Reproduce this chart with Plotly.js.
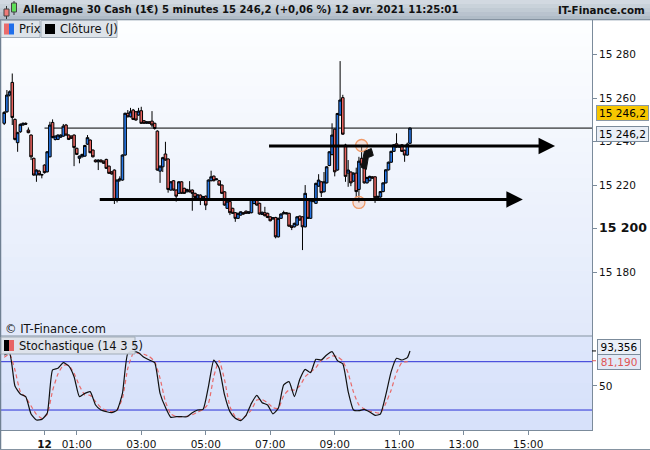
<!DOCTYPE html>
<html><head><meta charset="utf-8">
<script src="https://cdn.plot.ly/plotly-3.0.1.min.js"></script>
<style>html,body{margin:0;padding:0;background:#fff;}#chart{width:650px;height:450px;}</style>
</head><body><div id="chart"></div>
<script>
// ---- DATA (5-minute bars, first bar = 22:45 on 11 avr. 2021) ----
const firstBarOffset = -15; // bars relative to midnight of 12 avr.
const openP = [
15248.4,15253.7,15261.4,15267.2,15250.2,15239.5,15244.5,15247.6,15248.4,15245.3,
15243.0,15232.3,15224.6,15226.4,15224.6,
15229.2,15226.1,15233.0,15248.8,15241.0,15241.0,15242.0,15242.5,15247.6,15243.0,
15242.5,15243.0,15236.9,15232.3,15233.0,15233.3,15238.8,15240.7,15236.1,15231.5,
15230.7,15231.5,15231.0,15231.8,15228.7,15226.1,15226.9,15213.4,15222.3,15222.3,
15233.8,15253.0,15251.4,15254.5,15253.7,15252.2,15254.2,15249.6,15248.4,15249.1,
15249.4,15248.4,15244.8,15226.4,15228.4,15234.3,15232.0,15217.7,15222.0,15217.7,
15216.2,15221.5,15218.5,15216.9,15217.7,15217.7,15216.2,15214.0,15215.4,15214.0,
15214.9,15213.4,15222.0,15224.1,15222.5,15222.0,15220.0,15216.9,15209.3,15212.4,
15209.3,15207.3,15204.7,15206.2,15207.3,15208.0,15207.0,15207.3,15211.5,15213.1,
15211.6,15206.5,15207.3,15207.0,15205.4,15204.4,15205.1,15196.2,15204.7,15206.8,
15207.3,15207.0,15201.2,15200.8,15201.6,15205.7,15205.4,15200.8,15213.1,15204.7,
15212.4,15211.6,15219.5,15221.5,15216.9,15221.0,15229.0,15234.0,15245.7,15226.9,
15252.2,15260.2,15238.4,15225.5,15226.0,15221.8,15225.5,15218.0,15232.3,15229.0,
15221.0,15222.0,15223.8,15223.8,15214.2,15214.5,15217.0,15221.0,15227.0,15230.5,
15235.5,15239.0,15237.5,15238.5,15236.0,15233.8,15239.2];
const highP = [
15254.0,15263.7,15263.5,15271.3,15250.6,15244.5,15248.4,15248.8,15248.8,15246.5,
15243.3,15232.6,15227.2,15227.0,15225.2,
15229.5,15235.6,15249.1,15250.2,15242.8,15243.3,15243.3,15248.1,15248.1,15243.3,
15242.8,15243.3,15237.2,15233.6,15234.4,15238.5,15243.0,15241.0,15236.4,15231.8,
15231.8,15231.8,15231.3,15232.1,15229.0,15226.4,15227.2,15222.6,15224.0,15234.1,
15253.3,15254.5,15255.5,15255.0,15254.0,15255.5,15256.0,15249.9,15249.4,15249.4,
15254.0,15248.7,15245.2,15229.0,15233.0,15239.9,15232.3,15221.8,15222.3,15218.0,
15221.8,15221.8,15218.8,15218.3,15221.8,15218.0,15216.5,15215.8,15215.7,15215.0,
15215.2,15222.6,15226.6,15224.4,15223.1,15222.3,15220.3,15217.2,15212.9,15212.7,
15209.6,15207.6,15207.3,15207.9,15207.6,15208.3,15208.0,15213.7,15214.0,15213.4,
15211.9,15207.8,15210.0,15207.3,15205.7,15205.3,15205.4,15205.0,15207.0,15208.2,
15207.6,15207.3,15201.5,15202.7,15205.7,15206.0,15205.7,15220.0,15213.4,15213.4,
15213.4,15221.1,15225.0,15221.8,15226.0,15228.7,15235.6,15248.4,15246.0,15253.2,
15277.0,15261.5,15239.0,15231.5,15226.3,15225.8,15228.0,15233.0,15238.2,15230.0,
15223.8,15224.3,15224.1,15224.1,15215.1,15217.3,15221.3,15227.3,15230.8,15235.8,
15238.8,15243.8,15238.5,15238.8,15236.3,15239.5,15246.5];
const lowP = [
15247.6,15253.2,15260.8,15247.6,15240.5,15235.3,15244.0,15247.3,15247.6,15243.8,
15231.5,15224.3,15221.5,15224.3,15223.1,
15225.3,15225.8,15232.7,15241.5,15240.5,15240.7,15241.7,15242.2,15242.7,15240.7,
15241.2,15228.7,15233.8,15230.0,15232.7,15233.0,15238.5,15234.6,15232.7,15230.4,
15226.9,15230.4,15229.7,15227.4,15225.1,15224.8,15211.3,15212.0,15221.5,15222.0,
15233.5,15251.1,15251.1,15249.9,15249.6,15251.9,15248.1,15248.1,15248.1,15248.1,
15246.6,15245.5,15226.6,15221.0,15226.0,15231.2,15216.5,15217.4,15217.4,15212.4,
15215.9,15215.9,15215.9,15216.6,15216.6,15208.2,15214.0,15213.7,15210.8,15213.7,
15208.5,15213.1,15221.7,15221.7,15222.2,15219.7,15215.9,15210.5,15209.0,15206.2,
15206.7,15203.1,15204.4,15205.9,15206.4,15206.7,15206.7,15207.0,15211.2,15210.5,
15206.4,15206.2,15205.6,15204.8,15203.3,15204.1,15195.5,15195.9,15204.4,15206.5,
15206.5,15200.8,15199.3,15200.5,15201.3,15203.6,15190.1,15200.5,15204.4,15204.4,
15212.1,15211.3,15219.2,15214.5,15216.6,15220.7,15228.7,15233.7,15224.0,15226.6,
15251.9,15243.1,15221.5,15219.2,15219.5,15221.5,15214.5,15212.0,15228.9,15220.7,
15220.7,15221.7,15222.9,15211.8,15213.5,15214.2,15216.7,15220.7,15226.7,15230.2,
15235.2,15237.2,15237.2,15235.2,15230.7,15233.5,15238.9];
const closeP = [
15253.4,15261.4,15262.9,15251.1,15241.0,15244.1,15247.9,15248.4,15248.0,15244.1,
15233.0,15224.6,15226.9,15224.8,15224.8,
15225.7,15235.3,15247.6,15241.9,15242.5,15243.0,15243.0,15247.1,15243.0,15241.0,
15241.5,15237.3,15234.1,15233.3,15234.1,15238.2,15241.8,15234.9,15233.0,15230.7,
15231.5,15230.7,15230.0,15227.7,15225.4,15225.1,15213.4,15222.3,15222.8,15233.8,
15253.0,15251.4,15253.7,15250.2,15249.9,15254.0,15248.4,15248.4,15249.1,15248.4,
15247.6,15246.0,15226.9,15228.7,15232.6,15231.5,15218.0,15221.5,15217.7,15214.9,
15221.5,15216.2,15216.2,15218.0,15216.9,15216.2,15214.3,15215.5,15213.4,15214.7,
15210.8,15222.3,15223.8,15222.0,15222.8,15220.0,15216.2,15210.8,15212.6,15207.3,
15207.0,15204.7,15207.0,15207.7,15206.7,15207.0,15207.7,15213.4,15213.3,15210.8,
15206.7,15207.5,15205.9,15205.1,15203.6,15205.0,15196.2,15204.7,15206.7,15207.3,
15206.8,15201.1,15200.5,15202.4,15205.4,15203.9,15200.8,15216.2,15204.7,15213.1,
15213.1,15220.8,15222.3,15216.5,15221.5,15228.4,15235.3,15243.0,15226.1,15252.9,
15259.1,15243.4,15224.0,15226.9,15221.0,15225.5,15217.0,15231.0,15229.2,15221.0,
15223.5,15224.0,15223.2,15214.2,15214.8,15217.0,15221.0,15227.0,15230.5,15235.5,
15238.5,15237.5,15238.2,15235.5,15233.8,15238.8,15246.2];

// Stochastic (14 3 5) read every second bar from -15 to 135, plus the last bar (136)
const stochK = [88.3,90.4,49.8,39.9,36.6,15.0,7.6,8.4,15.9,69.7,71.8,78.8,74.7,61.4,36.6,40.7,42.8,26.2,20.0,18.0,16.7,20.0,40.7,90.4,92.5,91.2,85.4,82.1,78.8,40.7,23.3,10.9,11.7,11.7,11.7,16.7,20.0,20.8,49.0,82.0,71.8,38.7,18.0,9.7,6.8,13.4,28.3,38.3,29.1,26.3,15.1,22.1,51.1,55.2,36.6,58.1,70.5,66.4,83.0,82.1,88.4,92.5,81.3,77.2,42.8,20.0,19.2,20.9,17.6,13.4,15.1,38.7,67.7,84.2,82.1,85.0,93.356];
const stochD = [85.4,89.6,69.7,42.8,35.8,25.0,14.6,9.7,14.6,44.0,64.7,75.5,75.5,65.6,50.2,38.6,38.2,30.4,22.9,19.6,17.9,20.0,34.5,71.8,90.0,90.4,89.2,86.3,80.0,59.4,30.4,15.1,11.7,11.7,12.2,14.2,17.5,20.4,28.3,62.0,81.3,57.3,24.2,11.8,8.4,13.0,20.0,32.5,32.9,29.1,22.9,22.1,37.8,44.9,44.9,49.8,61.4,67.2,72.6,81.7,83.4,87.1,86.3,80.9,65.6,42.0,26.3,21.3,18.8,17.1,16.3,28.3,44.9,66.4,79.2,80.0,81.19];
const stochLevels = [80, 20];

const timeTickHours = [0,1,3,5,7,9,11,13,15];
const timeTickLabels = ['<b>12</b>','01:00','03:00','05:00','07:00','09:00','11:00','13:00','15:00'];
const priceTicks = [15180,15200,15220,15240,15260,15280];
const priceTickLabels = ['15 180','<b><span style="font-size:12.5px">15 200</span></b>','15 220','15 240','15 260','15 280'];

const titleText = 'Allemagne 30 Cash (1€) 5 minutes 15 246,2 (+0,06 %) 12 avr. 2021 11:25:01';
const arrowsDrawn = [ // user-drawn horizontal arrows: [tail bar, head bar, price]
  [83, 190, 15238.0],
  [20, 178, 15213.4]
];

// ---- helpers ----
function ts(minutes){ const d=new Date(Date.UTC(2021,3,12,0,0,0)+minutes*60000); return d.toISOString().slice(0,19).replace('T',' '); }
function fr(v,d){ const s=v.toFixed(d).split('.'); const i=s[0].replace(/\B(?=(\d{3})+(?!\d))/g,' '); return d? i+','+s[1] : i; }
const PX = x => (x-1)/591;
const PY = y => (430-y)/410;
function mix(c1,c2,t){ const a=parseInt(c1.slice(1),16), b=parseInt(c2.slice(1),16);
  const r=Math.round(((a>>16)&255)*(1-t)+((b>>16)&255)*t), g=Math.round(((a>>8)&255)*(1-t)+((b>>8)&255)*t), bl=Math.round((a&255)*(1-t)+(b&255)*t);
  return 'rgb('+r+','+g+','+bl+')'; }

const times = openP.map((_,k)=>ts((k+firstBarOffset)*5));
const stochBars = []; for(let b=-15;b<=135;b+=2) stochBars.push(b); stochBars.push(136);
const stochX = stochBars.map(b=>ts(b*5));
const last = closeP.length-1;
const xRange = ['2021-04-11 22:39:03','2021-04-12 16:58:40'];

const shapes = [];
function band(y0,y1,c0,c1,n){ const h=(y1-y0)/n; for(let k=0;k<n;k++){ shapes.push({type:'rect',xref:'paper',yref:'paper',x0:PX(1),x1:PX(592),y0:PY(y0+k*h),y1:PY(y0+(k+1)*h+0.6),fillcolor:mix(c0,c1,(k+0.5)/n),line:{width:0},layer:'below'}); } }
band(20,336,'#fdfeff','#e1e9fa',24);
band(336,430,'#dee7fb','#d6e0fa',6);
// header bar
for(let k=0;k<5;k++){ shapes.push({type:'rect',xref:'paper',yref:'paper',x0:PX(0),x1:PX(650),y0:PY(k*4),y1:PY(k*4+4.5),fillcolor:mix('#d6dde4','#acb8c4',(k+0.5)/5),line:{width:0},layer:'below'}); }
shapes.push({type:'line',xref:'paper',yref:'paper',x0:PX(0),x1:PX(650),y0:PY(19.5),y1:PY(19.5),line:{color:'#8593a1',width:1}});
// header icon (small candles)
shapes.push({type:'line',xref:'paper',yref:'paper',x0:PX(6.5),x1:PX(6.5),y0:PY(6),y1:PY(19),line:{color:'#333',width:1}});
shapes.push({type:'rect',xref:'paper',yref:'paper',x0:PX(4),x1:PX(9),y0:PY(9),y1:PY(16),fillcolor:'#ee7b78',line:{color:'#444',width:1}});
shapes.push({type:'line',xref:'paper',yref:'paper',x0:PX(14),x1:PX(14),y0:PY(1),y1:PY(15),line:{color:'#333',width:1}});
shapes.push({type:'rect',xref:'paper',yref:'paper',x0:PX(11.5),x1:PX(16.5),y0:PY(3),y1:PY(12),fillcolor:'#5fe05a',line:{color:'#444',width:1}});
// panel divider & frame
shapes.push({type:'line',xref:'paper',yref:'paper',x0:PX(1),x1:PX(592),y0:PY(336),y1:PY(336),line:{color:'#8593a1',width:1}});
shapes.push({type:'line',xref:'paper',yref:'paper',x0:PX(0.5),x1:PX(0.5),y0:PY(20),y1:PY(450),line:{color:'#6f8092',width:1.5}});
shapes.push({type:'line',xref:'paper',yref:'paper',x0:PX(0),x1:PX(650),y0:PY(449.5),y1:PY(449.5),line:{color:'#8593a1',width:1}});
// legend boxes
shapes.push({type:'rect',xref:'paper',yref:'paper',x0:PX(1),x1:PX(40),y0:PY(20.5),y1:PY(37.5),fillcolor:'#dde3e9',line:{color:'#a2adb8',width:1}});
shapes.push({type:'rect',xref:'paper',yref:'paper',x0:PX(41),x1:PX(117),y0:PY(20.5),y1:PY(37.5),fillcolor:'#dde3e9',line:{color:'#a2adb8',width:1}});
shapes.push({type:'rect',xref:'paper',yref:'paper',x0:PX(4),x1:PX(9),y0:PY(23.5),y1:PY(34.5),fillcolor:'#ea6b6b',line:{width:0}});
shapes.push({type:'rect',xref:'paper',yref:'paper',x0:PX(9),x1:PX(14),y0:PY(23.5),y1:PY(34.5),fillcolor:'#1f6fea',line:{width:0}});
shapes.push({type:'rect',xref:'paper',yref:'paper',x0:PX(45),x1:PX(55),y0:PY(24),y1:PY(34),fillcolor:'#000',line:{width:0}});
shapes.push({type:'rect',xref:'paper',yref:'paper',x0:PX(1),x1:PX(135),y0:PY(337),y1:PY(354),fillcolor:'rgba(221,227,233,0.92)',line:{color:'#a2adb8',width:1}});
shapes.push({type:'rect',xref:'paper',yref:'paper',x0:PX(4),x1:PX(9),y0:PY(340),y1:PY(351),fillcolor:'#000',line:{width:0}});
shapes.push({type:'rect',xref:'paper',yref:'paper',x0:PX(9),x1:PX(14),y0:PY(340),y1:PY(351),fillcolor:'#e86464',line:{width:0}});
// last close line from midnight
shapes.push({type:'line',xref:'x',yref:'y',x0:ts(0),x1:xRange[1],y0:closeP[last],y1:closeP[last],line:{color:'#000',width:1},layer:'below'});
// stochastic levels
stochLevels.forEach(v=>shapes.push({type:'line',xref:'paper',yref:'y2',x0:0,x1:1,y0:v,y1:v,line:{color:'#2a2fd6',width:1},layer:'below'}));
// small tick marks for stochastic value boxes
shapes.push({type:'line',xref:'paper',yref:'y2',x0:PX(592),x1:PX(596),y0:stochK[stochK.length-1],y1:stochK[stochK.length-1],line:{color:'#000',width:1}});
shapes.push({type:'line',xref:'paper',yref:'y2',x0:PX(592),x1:PX(596),y0:stochD[stochD.length-1],y1:stochD[stochD.length-1],line:{color:'#e05555',width:1}});
// touch circles
[[118, highP[118-firstBarOffset]],[117, lowP[117-firstBarOffset]]].forEach(c=>{
  shapes.push({type:'circle',xref:'x',yref:'y',xsizemode:'pixel',ysizemode:'pixel',xanchor:ts(c[0]*5),yanchor:c[1],x0:-6,x1:6,y0:-6,y1:6,line:{color:'#f09a68',width:1.3},fillcolor:'rgba(250,190,160,0.35)'});
});
// drawn cursor mark near the upper touch
shapes.push({type:'path',xref:'x',yref:'y',xsizemode:'pixel',ysizemode:'pixel',xanchor:ts(119*5),yanchor:highP[118-firstBarOffset],
  path:'M -3,-22 L 0,-6 L 7,-3 L 9,-10 L 4,-12 L 2,-24 Z',fillcolor:'#111',line:{color:'#111',width:1}});

const annotations = [];
annotations.push({xref:'paper',yref:'paper',x:PX(21),y:PY(10),xanchor:'left',yanchor:'middle',showarrow:false,text:'<b>'+titleText+'</b>',font:{size:10.1,color:'#111'}});
annotations.push({xref:'paper',yref:'paper',x:PX(647),y:PY(10),xanchor:'right',yanchor:'middle',showarrow:false,text:'<b>IT-Finance.com</b>',font:{size:10.3,color:'#111'}});
annotations.push({xref:'paper',yref:'paper',x:PX(17),y:PY(29),xanchor:'left',yanchor:'middle',showarrow:false,text:'Prix',font:{size:11.5,color:'#111'}});
annotations.push({xref:'paper',yref:'paper',x:PX(58),y:PY(29),xanchor:'left',yanchor:'middle',showarrow:false,text:'Clôture (J)',font:{size:11.5,color:'#111'}});
annotations.push({xref:'paper',yref:'paper',x:PX(3),y:PY(329),xanchor:'left',yanchor:'middle',showarrow:false,text:'© IT-Finance.com',font:{size:11.5,color:'#111'}});
annotations.push({xref:'paper',yref:'paper',x:PX(17),y:PY(345.5),xanchor:'left',yanchor:'middle',showarrow:false,text:'Stochastique (14 3 5)',font:{size:11.5,color:'#111'}});
// price boxes on the right axis
annotations.push({xref:'paper',yref:'y',x:PX(596),y:closeP[last],yshift:15.5,xanchor:'left',yanchor:'middle',showarrow:false,text:fr(closeP[last],1),font:{size:10.5,color:'#000'},bgcolor:'#f7c600',bordercolor:'#8a98a6',borderwidth:1,borderpad:1,width:49});
annotations.push({xref:'paper',yref:'y',x:PX(596),y:closeP[last],yshift:-6,xanchor:'left',yanchor:'middle',showarrow:false,text:fr(closeP[last],1),font:{size:10.5,color:'#000'},bgcolor:'#e9eef6',bordercolor:'#7b8b9b',borderwidth:1,borderpad:1,width:49});
annotations.push({xref:'paper',yref:'y2',x:PX(597),y:stochK[stochK.length-1],yshift:3.5,xanchor:'left',yanchor:'middle',showarrow:false,text:fr(stochK[stochK.length-1],3),font:{size:10.5,color:'#000'},bgcolor:'#eaeff7',bordercolor:'#7b8b9b',borderwidth:1,borderpad:1,width:40});
annotations.push({xref:'paper',yref:'y2',x:PX(597),y:stochD[stochD.length-1],yshift:-1,xanchor:'left',yanchor:'middle',showarrow:false,text:fr(stochD[stochD.length-1],3),font:{size:10.5,color:'#e05555'},bgcolor:'#e2e9f6',bordercolor:'#7b8b9b',borderwidth:1,borderpad:1,width:40});
// drawn arrows
arrowsDrawn.forEach(a=>annotations.push({xref:'x',yref:'y',axref:'x',ayref:'y',x:ts(a[1]*5),y:a[2],ax:ts(a[0]*5),ay:a[2],text:'',showarrow:true,arrowhead:2,arrowsize:1.1,arrowwidth:3,arrowcolor:'#000',standoff:0,startstandoff:0}));

const traces = [
 {type:'candlestick',x:times,open:openP,high:highP,low:lowP,close:closeP,xaxis:'x',yaxis:'y',whiskerwidth:0,
  increasing:{fillcolor:'#2778e8',line:{color:'#000',width:1}},
  decreasing:{fillcolor:'#e7625e',line:{color:'#000',width:1}},hoverinfo:'skip'},
 {type:'scatter',mode:'lines',x:stochX,y:stochD,xaxis:'x',yaxis:'y2',line:{color:'#e86a6a',width:1.2,dash:'4px,3px',shape:'spline',smoothing:0.5},hoverinfo:'skip'},
 {type:'scatter',mode:'lines',x:stochX,y:stochK,xaxis:'x',yaxis:'y2',line:{color:'#111',width:1.2,shape:'spline',smoothing:0.5},hoverinfo:'skip'}
];

const layout = {
 width:650,height:450,margin:{l:1,r:58,t:20,b:20,pad:0},
 paper_bgcolor:'#ffffff',plot_bgcolor:'rgba(0,0,0,0)',showlegend:false,hovermode:false,
 boxgap:0.04,boxgroupgap:0,
 font:{family:'DejaVu Sans, sans-serif',size:10.5,color:'#111'},
 xaxis:{type:'date',range:xRange,anchor:'y2',tickmode:'array',tickvals:timeTickHours.map(h=>ts(h*60)),ticktext:timeTickLabels,
   ticks:'outside',ticklen:4,tickcolor:'#7b8b9b',showgrid:false,zeroline:false,showline:true,linecolor:'#7b8b9b',linewidth:1,
   rangeslider:{visible:false},tickfont:{size:10.5,color:'#111'},fixedrange:true},
 yaxis:{domain:[(430-336)/410,1],range:[15150.6,15295.9],side:'right',anchor:'x',tickmode:'array',tickvals:priceTicks,ticktext:priceTickLabels,
   ticks:'outside',ticklen:4,tickcolor:'#7b8b9b',showgrid:false,zeroline:false,showline:true,linecolor:'#7b8b9b',linewidth:1,tickfont:{size:10.5,color:'#111'}},
 yaxis2:{domain:[0,(430-336)/410],range:[-4.8,111.9],side:'right',anchor:'x',tickmode:'array',tickvals:[50],ticktext:['50'],
   ticks:'outside',ticklen:4,tickcolor:'#7b8b9b',showgrid:false,zeroline:false,showline:true,linecolor:'#7b8b9b',linewidth:1,tickfont:{size:10.5,color:'#111'}},
 shapes:shapes,annotations:annotations
};
Plotly.newPlot('chart',traces,layout,{staticPlot:true,displayModeBar:false});
</script></body></html>
